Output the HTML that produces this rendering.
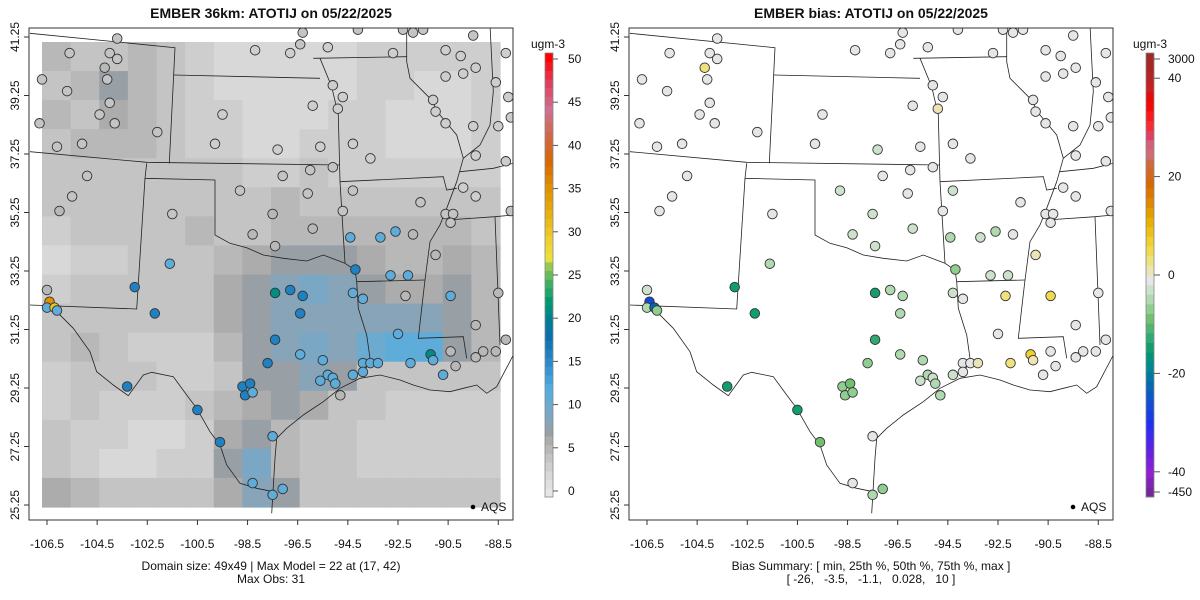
<!DOCTYPE html>
<html><head><meta charset="utf-8">
<style>
html,body{margin:0;padding:0;background:#fff;}
svg{display:block;font-family:"Liberation Sans",Arial,sans-serif;}
</style></head>
<body>
<svg id="chart" width="1200" height="600" viewBox="0 0 1200 600">
  <defs>
    <clipPath id="clipL"><rect x="29" y="28" width="484" height="492"/></clipPath>
    <clipPath id="clipR"><rect x="629" y="28" width="484" height="492"/></clipPath>
  </defs>
  <g id="panelL"></g>
  <g id="panelR"></g>
</svg>
<script>
// ---------- DATA ----------
const gridRow0  = [5,4,4,5,4,3,2,1.5,1.5,2,2,3,3,3,3,3];
const gridRow1  = [4,5,7,5,4,3,2,2,1.5,2,2,2.5,3,2,2,3];
const gridRow2  = [5,4,6,5,4,3,2.5,2,1.5,2,3,2.5,2,2,2,3];
const gridRow3  = [4,5,5,5,4,3,2.5,2,2,2.5,3,3,2,2,2,3];
const gridRow4  = [4,4,4,4,4,4,3.5,3,3,3.5,3,3,3,3,3,3];
const gridRow5  = [3.5,4,4,4,4,4,4,4,4.5,4,4,4,4,4,3.5,3.5];
const gridRow6  = [3,4,3.5,4,4,4.5,4,4,4.5,5,5,5,5,5,5,4];
const gridRow7  = [2,3,3,3.5,4,4,5,6,7,7,7,6,5,5,6,5];
const gridRow8  = [3,3.5,4,4,4,4,6,7,8,9,8,7,6,6,7,5];
const gridRow9  = [4,4,4,4,4,4,6,7,8,8,8,8,8,8,7,5];
const gridRow10 = [4,4.5,4,3,3,2.5,5,7,8,9,8,10,11,11,7,5];
const gridRow11 = [3,4,4,4,3,3,4,7,7,8,7,4,4,4,4,4];
const gridRow12 = [3,3.5,3,2.5,3,4,5,6,7,6,4,3.5,3,3,3,3];
const gridRow13 = [3.5,3,2.5,2,2,3,6,7,5,4,3.5,3,2.5,2.5,3,3];
const gridRow14 = [4,3,2,2,2.5,3,7,9,5,4,3.5,3,3,3,3,3];
const gridRow15 = [6,5,4,3.5,4,4,6,8,7,4,4,3.5,3.5,3.5,3.5,3.5];
const gridRows = [gridRow0,gridRow1,gridRow2,gridRow3,gridRow4,gridRow5,gridRow6,gridRow7,gridRow8,gridRow9,gridRow10,gridRow11,gridRow12,gridRow13,gridRow14,gridRow15];

const siteLon = [-103.7,-96.3,-94.1,-92.3,-91.9,-91.5,-89.5,-96.4,-105.6,-104.0,-103.7,-104.2,-104.1,-98.2,-96.8,-95.3,-92.7,-90.6,-90.0,-89.4,-88.2,-90.6,-89.9,-88.6,-106.7,-105.7,-95.1,-94.7,-94.9,-91.1,-91.0,-88.1,-88.0,-104.0,-104.4,-103.8,-106.8,-99.5,-95.9,-102.1,-90.6,-89.5,-88.5,-106.1,-105.1,-99.8,-97.3,-95.6,-94.3,-93.6,-89.4,-88.2,-104.9,-97.1,-96.0,-95.1,-105.5,-98.8,-96.1,-94.3,-89.9,-89.4,-91.6,-106.0,-97.5,-101.5,-94.7,-90.6,-90.3,-90.4,-88.0,-98.3,-95.9,-94.4,-93.2,-92.6,-91.9,-97.4,-91.0,-101.6,-94.2,-92.8,-92.1,-103.0,-106.5,-106.4,-106.5,-106.2,-106.1,-97.4,-96.8,-96.3,-94.3,-93.9,-92.2,-90.4,-88.5,-102.2,-96.4,-89.4,-97.4,-92.5,-88.2,-96.4,-97.7,-95.5,-91.2,-92.0,-91.1,-90.4,-89.4,-89.1,-88.6,-93.9,-93.6,-93.3,-93.9,-94.3,-90.7,-90.2,-95.3,-95.6,-95.1,-95.0,-98.7,-98.4,-98.6,-98.3,-94.8,-103.3,-100.5,-99.6,-97.5,-98.3,-97.5,-97.1];
const siteLat = [41.2,41.4,41.5,41.5,41.4,41.5,41.3,41.0,40.7,40.7,40.5,40.2,39.8,40.8,40.7,40.9,40.7,40.8,40.6,40.2,40.7,39.9,40.0,39.7,39.8,39.4,39.6,39.2,38.8,39.1,38.7,39.2,38.5,39.0,38.6,38.3,38.3,38.6,38.9,38.0,38.3,38.2,38.2,37.5,37.6,37.6,37.4,37.5,37.6,37.1,37.2,37.0,36.5,36.5,36.7,36.8,35.8,36.0,35.9,36.0,36.1,35.8,35.6,35.3,35.2,35.2,35.3,35.2,35.2,34.9,35.3,34.5,34.7,34.4,34.4,34.6,34.5,34.1,33.8,33.5,33.3,33.1,33.1,32.7,32.6,32.2,32.0,32.0,31.9,32.5,32.6,32.4,32.5,32.3,32.4,32.4,32.5,31.8,31.8,31.4,30.9,31.1,30.9,30.4,30.1,30.2,30.4,30.1,30.2,30.5,30.3,30.5,30.5,30.1,30.1,30.1,29.8,29.7,29.7,30.0,29.7,29.5,29.6,29.4,29.3,29.4,29.0,29.1,29.0,29.3,28.5,27.4,27.6,26.0,25.6,25.8];
const siteObs = [4,4,4,4,4,4,4,4,4,4,4,5,4,3,3,3,3,3,3,3,3,3,3,3,4,4,3,3,3,3,3,3,3,4,4,4,4,3,3,4,3,3,3,4,4,3,3,3,3,3,3,3,4,4,4,4,4,4,4,4,3,3,4,5,5,4,4,4,4,4,4,5,5,11,11,11,5,5,5,11,16,11,11,16,5,35,11,30,11,21,16,16,11,11,5,11,5,16,16,5,16,11,5,11,16,11,21,11,11,5,5,5,5,11,11,11,11,11,11,5,11,11,11,11,16,16,16,11,5,16,16,16,11,11,11,11];
const siteBias = [0,0,0,0,0,0,0,0,0,0,0,4,0,0,0,0,0,0,0,0,0,0,0,0,0,0,0,0,2,0,0,0,0,0,0,0,0,0,0,0,0,0,0,0,0,0,-3,0,0,0,0,0,0,0,0,0,0,-3,0,-3,0,0,0,0,-2,0,0,0,0,0,0,-3,-2,-4,-3,-4,0,-2,2,-5,-6,-3,-3,-15,-2,-26,-4,-22,-6,-14,-5,-4,-2,0,3,5,0,-14,-5,0,-12,0,0,-4,-7,-4,8,3,2,-1,0,0,0,-1,0,2,-1,-2,-1,0,-5,-3,-3,-4,-6,-8,-7,-6,-4,-14,-14,-8,0,-1,-4,-6];

const modelTicks = [0,5,10,15,20,25,30,35,40,45,50];
const biasTickVals = [44,40,20,0,-20,-40,-44];
const biasTickLabels = ["3000","40","20","0","-20","-40","-450"];
const lonTicks = [-106.5,-104.5,-102.5,-100.5,-98.5,-96.5,-94.5,-92.5,-90.5,-88.5];
const latTicks = [25.25,27.25,29.25,31.25,33.25,35.25,37.25,39.25,41.25];

// ---------- styling / geometry ----------
const NS = "http://www.w3.org/2000/svg";
function mk(tag, attrs, parent){const e=document.createElementNS(NS,tag);for(const k in attrs)e.setAttribute(k,attrs[k]);if(parent)parent.appendChild(e);return e;}
function lonX(lon, off){return 47 + (lon + 106.5) * 25.07 + off;}
function latY(lat){return 505 - (lat - 25.25) * 29.25;}

const modelStops = [[0,"#e6e6e6"],[2,"#d8d8d8"],[4,"#c4c4c4"],[6,"#acacac"],[7,"#98a0a6"],[8,"#88a4b8"],[10,"#6caad0"],[12,"#50ade4"],[14,"#3496d6"],[16,"#1f80c2"],[18,"#0a6eb0"],[20,"#007f92"],[22,"#009a72"],[24,"#3cb062"],[26,"#94c852"],[27,"#e8e040"],[29,"#f0d030"],[32,"#e8b010"],[35,"#e09000"],[38,"#d86800"],[41,"#d06848"],[44,"#d07090"],[47,"#e04060"],[50,"#ff0000"]];
const biasStops = [[-45,"#6a2a90"],[-40,"#9020d0"],[-35,"#6020e8"],[-30,"#2030f0"],[-25,"#1050d0"],[-21,"#0070a8"],[-18,"#008890"],[-15,"#009870"],[-12,"#30aa70"],[-8,"#70c070"],[-5,"#a0d4a0"],[-2,"#cce2cc"],[0,"#e6e6e6"],[2,"#ece4b4"],[5,"#f0e060"],[8,"#f0d030"],[12,"#e8b000"],[16,"#e08800"],[20,"#d86800"],[24,"#d06840"],[27,"#d07088"],[30,"#e04060"],[33,"#ff2020"],[37,"#f00000"],[40,"#c82020"],[45,"#a02828"]];
function hex(c){return [parseInt(c.substr(1,2),16),parseInt(c.substr(3,2),16),parseInt(c.substr(5,2),16)];}
function interp(stops,v){
  if(v<=stops[0][0])return stops[0][1];
  for(let i=1;i<stops.length;i++){
    if(v<=stops[i][0]){const a=stops[i-1],b=stops[i];const t=(v-a[0])/(b[0]-a[0]);
      const ca=hex(a[1]),cb=hex(b[1]);return "rgb("+ca.map((x,j)=>Math.round(x+(cb[j]-x)*t)).join(",")+")";}
  }
  return stops[stops.length-1][1];
}
function modelColor(v){return interp(modelStops, Math.round(v));}
function biasColor(v){return interp(biasStops, Math.max(-45,Math.min(45,Math.round(v/2)*2)));}

const borders = [
 [[0,25],[435,68],[418,415]],
 [[432,150],[870,160]],
 [[850,100],[1130,95]],
 [[0,380],[350,412],[930,420]],
 [[350,415],[345,460],[555,465],[555,630],[600,655],[650,668],[700,690],[760,700],[830,708],[880,690],[945,715]],
 [[345,460],[320,852],[0,840]],
 [[55,830],[80,860],[130,910],[180,980],[200,1040],[250,1080],[295,1112],[340,1050],[365,1042],[430,1055],[470,1110],[500,1150],[540,1220],[570,1260],[590,1320],[630,1375],[680,1390],[730,1400]],
 [[725,1465],[735,1300],[740,1240],[770,1210],[820,1170],[880,1130],[930,1090],[990,1060],[1050,1050],[1110,1065],[1150,1080],[1200,1095],[1260,1100],[1300,1090],[1340,1080],[1370,1105],[1400,1085],[1450,990]],
 [[945,715],[975,735],[980,770],[985,850],[1010,930],[1020,1000],[1000,1050]],
 [[980,770],[1185,765]],
 [[1185,765],[1175,850],[1165,940],[1300,935],[1310,1000]],
 [[930,470],[945,715]],
 [[870,100],[905,185],[925,270],[930,470]],
 [[930,470],[1240,455],[1250,495],[1280,490]],
 [[1130,20],[1130,110],[1140,160],[1200,220],[1230,270],[1280,330],[1300,400],[1280,470],[1250,550],[1230,600],[1200,650],[1185,765]],
 [[1250,585],[1395,575],[1450,570]],
 [[1395,575],[1410,960]],
 [[1380,0],[1390,200],[1380,300],[1350,360],[1300,400]],
 [[1290,440],[1390,430],[1450,415]]
];

function drawPanel(g, off, clipId, isBias){
  const inner = mk("g",{"clip-path":"url(#"+clipId+")"},g);
  if(!isBias){
    const x0=42+off,y0=42,w=(500-42)/16,h=(507-42)/16;
    gridRows.forEach((row,r)=>row.forEach((v,c)=>{
      const cell=mk("rect",{x:(x0+c*w).toFixed(2),y:(y0+r*h).toFixed(2),width:(w+0.6).toFixed(2),height:(h+0.6).toFixed(2),fill:modelColor(v)},inner);
      
      
    }));
  }
  borders.forEach(line=>{
    const pts=line.map(p=>(30+p[0]/3+off).toFixed(1)+","+(25+p[1]/3).toFixed(1)).join(" ");
    const pl=mk("polyline",{points:pts,fill:"none",stroke:"#222","stroke-width":"0.8"},inner);
    
    
  });
  siteLon.forEach((lon,i)=>{
    const col = isBias ? biasColor(siteBias[i]) : modelColor(siteObs[i]);
    const c=mk("circle",{cx:lonX(lon,off).toFixed(1),cy:latY(siteLat[i]).toFixed(1),r:"4.8",fill:col,stroke:"#333","stroke-width":"0.9"},inner);
    
    
  });
  const fr=mk("rect",{x:29+off,y:28,width:484,height:492,fill:"none",stroke:"#333","stroke-width":"1"},g);
  
  
  const xa=mk("g",{},g);
  
  
  mk("line",{x1:lonX(lonTicks[0],off),x2:lonX(lonTicks[lonTicks.length-1],off),y1:520,y2:520,stroke:"#333"},xa);
  lonTicks.forEach(t=>{
    const x=lonX(t,off);
    mk("line",{x1:x,x2:x,y1:520,y2:525,stroke:"#333"},xa);
    const tx=mk("text",{x:x,y:548,"font-size":"12","text-anchor":"middle",fill:"#111"},xa);
    tx.textContent=t.toFixed(1);
    
    
  });
  const ya=mk("g",{},g);
  
  
  mk("line",{x1:29+off,x2:29+off,y1:latY(latTicks[0]),y2:latY(latTicks[latTicks.length-1]),stroke:"#333"},ya);
  latTicks.forEach(t=>{
    const y=latY(t);
    mk("line",{x1:24+off,x2:29+off,y1:y,y2:y,stroke:"#333"},ya);
    const tx=mk("text",{x:0,y:0,"font-size":"12","text-anchor":"middle",fill:"#111",transform:"translate("+(19+off)+","+y+") rotate(-90)"},ya);
    tx.textContent=t.toFixed(2);
    
    
  });
  mk("circle",{cx:473+off,cy:507,r:"2.3",fill:"#000"},g);
  const aq=mk("text",{x:481+off,y:511,"font-size":"12",fill:"#111"},g);
  aq.textContent="AQS";
  
  
}

const L=document.getElementById("panelL"), R=document.getElementById("panelR");
drawPanel(L,0,"clipL",false);
drawPanel(R,600,"clipR",true);

function addText(g,x,y,str,size,weight,name,anchor){
  const t=mk("text",{x:x,y:y,"font-size":size,"font-weight":weight||"normal","text-anchor":anchor||"middle",fill:"#111","xml:space":"preserve"},g);
  t.textContent=str;
  
  
  return t;
}
addText(L,271,18,"EMBER 36km: ATOTIJ on 05/22/2025","14","bold","chart-title-model");
addText(R,871,18,"EMBER bias: ATOTIJ on 05/22/2025","14","bold","chart-title-bias");
addText(L,271,570,"Domain size: 49x49 | Max Model = 22 at (17, 42)","12","normal","domain-summary");
addText(L,271,583,"Max Obs: 31","12","normal","max-obs");
addText(R,871,570,"Bias Summary: [ min, 25th %, 50th %, 75th %, max ]","12","normal","bias-summary-header");
const bs=addText(R,871,583,"[ -26,   -3.5,   -1.1,   0.028,   10 ]","12","normal","bias-summary-values");
bs.setAttribute("style","white-space:pre");

(function(){
  const g=mk("g",{},L);
  
  
  const top=53,bot=497,n=51,h=(bot-top)/n;
  for(let v=0;v<=50;v++){
    const r=mk("rect",{x:545,y:(bot-(v+1)*h).toFixed(2),width:8,height:(h+0.4).toFixed(2),fill:modelColor(v)},g);
    
    
  }
  mk("rect",{x:545,y:top,width:8,height:bot-top,fill:"none",stroke:"#888","stroke-width":"0.8"},g);
  modelTicks.forEach(t=>{
    const y=491-t*8.64;
    mk("line",{x1:553,x2:558,y1:y,y2:y,stroke:"#555"},g);
    addText(g,568,y+4,String(t),"12","normal","colorbar-tick-label","start");
  });
  addText(g,548,48,"ugm-3","12","normal","colorbar-units");
})();
(function(){
  const g=mk("g",{},R);
  
  
  const top=53,bot=497,n=46,h=(bot-top)/n;
  for(let i=0;i<n;i++){
    const v=-45+i*2;
    const r=mk("rect",{x:1146,y:(bot-(i+1)*h).toFixed(2),width:8,height:(h+0.4).toFixed(2),fill:biasColor(v)},g);
    
    
  }
  mk("rect",{x:1146,y:top,width:8,height:bot-top,fill:"none",stroke:"#888","stroke-width":"0.8"},g);
  biasTickVals.forEach((t,i)=>{
    let y=275-t*4.92;
    if(i===0)y=59; if(i===biasTickVals.length-1)y=492;
    mk("line",{x1:1154,x2:1160,y1:y,y2:y,stroke:"#555"},g);
    addText(g,1168,y+4,biasTickLabels[i],"12","normal","colorbar-tick-label","start");
  });
  addText(g,1150,48,"ugm-3","12","normal","colorbar-units");
})();
</script>
</body></html>
